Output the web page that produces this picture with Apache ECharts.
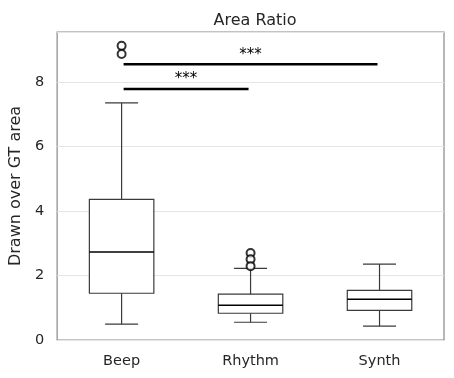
<!DOCTYPE html>
<html>
<head>
<meta charset="utf-8">
<script src="https://cdn.jsdelivr.net/npm/echarts@6/dist/echarts.min.js"></script>
<style>
  html, body { margin: 0; padding: 0; background: #fff; }
  #chart { width: 454px; height: 378px; }
</style>
</head>
<body>
<div id="chart"></div>
<script>
var categories = ['Beep', 'Rhythm', 'Synth'];
// [min whisker, Q1, median, Q3, max whisker]
var boxStats = [
    [0.49, 1.45, 2.73, 4.36, 7.35],
    [0.55, 0.83, 1.08, 1.42, 2.22],
    [0.43, 0.92, 1.26, 1.54, 2.35]
];
// [category index, value]
var outliers = [
    [0, 9.12], [0, 8.87],
    [1, 2.70], [1, 2.50], [1, 2.29]
];
// [from index, to index, height, label]
var sigBars = [
    [0, 1, 7.78, '***'],
    [0, 2, 8.55, '***']
];

var chart = echarts.init(document.getElementById('chart'));

var boxData = boxStats.map(function (s, i) {
    return [i].concat(s);
});

function renderBox(params, api) {
    var x = api.value(0);
    var band = api.size([1, 0])[0];
    var half = band * 0.25;
    var cap = band * 0.128;
    var pMin = api.coord([x, api.value(1)]);
    var pQ1 = api.coord([x, api.value(2)]);
    var pMed = api.coord([x, api.value(3)]);
    var pQ3 = api.coord([x, api.value(4)]);
    var pMax = api.coord([x, api.value(5)]);
    var cx = pMin[0];
    var st = { stroke: '#3a3a3a', lineWidth: 1.2, fill: null };
    return {
        type: 'group',
        children: [
            { type: 'rect', shape: { x: cx - half, y: pQ3[1], width: half * 2, height: pQ1[1] - pQ3[1] }, style: { stroke: '#3a3a3a', lineWidth: 1.2, fill: '#fff' } },
            { type: 'line', shape: { x1: cx, y1: pQ3[1], x2: cx, y2: pMax[1] }, style: st },
            { type: 'line', shape: { x1: cx, y1: pQ1[1], x2: cx, y2: pMin[1] }, style: st },
            { type: 'line', shape: { x1: cx - cap, y1: pMax[1], x2: cx + cap, y2: pMax[1] }, style: st },
            { type: 'line', shape: { x1: cx - cap, y1: pMin[1], x2: cx + cap, y2: pMin[1] }, style: st },
            { type: 'line', shape: { x1: cx - half, y1: pMed[1], x2: cx + half, y2: pMed[1] }, style: { stroke: '#000', lineWidth: 1.5 } }
        ]
    };
}

function renderSig(params, api) {
    var a = api.coord([api.value(0), api.value(2)]);
    var b = api.coord([api.value(1), api.value(2)]);
    var x1 = a[0] + 2, x2 = b[0] - 2;
    return {
        type: 'group',
        children: [
            { type: 'line', shape: { x1: x1, y1: a[1], x2: x2, y2: a[1] }, style: { stroke: '#000', lineWidth: 2.5 } },
            { type: 'text', style: { text: sigBars[params.dataIndex][3], x: (x1 + x2) / 2, y: a[1] - 2, align: 'center', verticalAlign: 'bottom', fill: '#000', fontSize: 15, fontFamily: 'DejaVu Sans' } }
        ]
    };
}

var option = {
    animation: false,
    backgroundColor: '#fff',
    title: {
        text: 'Area Ratio',
        left: 250,
        top: 8,
        textAlign: 'center',
        textStyle: { fontSize: 16, fontWeight: 'normal', color: '#262626', fontFamily: 'DejaVu Sans' }
    },
    grid: {
        left: 57, right: 10, top: 32, bottom: 38,
        show: true, borderColor: '#888', borderWidth: 1.2
    },
    xAxis: {
        type: 'category',
        data: categories,
        axisLine: { show: false },
        axisTick: { show: false },
        axisLabel: { color: '#262626', fontSize: 14.5, margin: 14, fontFamily: 'DejaVu Sans' }
    },
    yAxis: {
        type: 'value',
        min: 0,
        max: 9.55,
        interval: 2,
        name: 'Drawn over GT area',
        nameLocation: 'middle',
        nameGap: 30,
        nameTextStyle: { fontSize: 16, color: '#262626', fontFamily: 'DejaVu Sans' },
        axisLine: { show: false },
        axisTick: { show: false },
        axisLabel: { color: '#262626', fontSize: 14.5, margin: 13, fontFamily: 'DejaVu Sans',
            formatter: function (v) { return v % 2 === 0 ? String(v) : ''; } },
        splitLine: { lineStyle: { color: '#e5e5e5', width: 1 } }
    },
    series: [
        { type: 'custom', renderItem: renderBox, data: boxData, z: 2 },
        { type: 'scatter', data: outliers, symbol: 'emptyCircle', symbolSize: 8,
          itemStyle: { color: '#000', borderColor: '#000', borderWidth: 1.2 }, z: 3 },
        { type: 'custom', renderItem: renderSig, data: sigBars, z: 4 }
    ]
};
chart.setOption(option);
</script>
</body>
</html>
